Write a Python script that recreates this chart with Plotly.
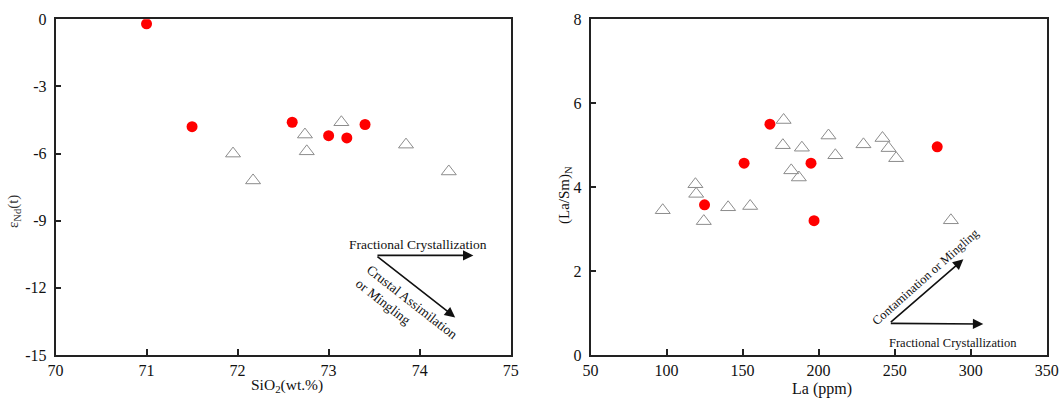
import plotly.graph_objects as go

# ---------------- data ----------------
# Left panel: SiO2 vs eNd(t)
sio2_red = [71.0, 71.5, 72.6, 73.0, 73.2, 73.4]
end_red = [-0.2, -4.8, -4.6, -5.2, -5.3, -4.7]
sio2_tri = [71.95, 72.17, 72.74, 72.76, 73.14, 73.85, 74.32]
end_tri = [-6.0, -7.2, -5.15, -5.9, -4.6, -5.6, -6.8]

# Right panel: La vs (La/Sm)N
la_red = [168, 151, 195, 278, 125, 197]
lasm_red = [5.5, 4.57, 4.57, 4.96, 3.58, 3.2]
la_tri = [177, 176.5, 189, 206.5, 211, 229.5, 242, 246, 251, 182, 187, 119, 119.5,
          97.5, 140.5, 155, 124.5, 287]
lasm_tri = [5.6, 5.0, 4.94, 5.23, 4.76, 5.02, 5.17, 4.93, 4.69, 4.4, 4.23, 4.07, 3.84,
            3.45, 3.52, 3.55, 3.19, 3.21]

left_xticks = [70, 71, 72, 73, 74, 75]
left_yticks = [0, -3, -6, -9, -12, -15]
left_yticklabels = ["0", "-3", "-6", "-9", "-12", "-15"]
right_xticks = [50, 100, 150, 200, 250, 300, 350]
right_yticks = [0, 2, 4, 6, 8]

# trend arrows (tail -> head) in data units
left_arrow_tail = (73.52, -10.55)
left_arrow_fc = (74.59, -10.55)
left_arrow_ca = (74.39, -13.32)
right_arrow_tail = (246.5, 0.755)
right_arrow_fc = (308.3, 0.74)
right_arrow_cm = (295.2, 2.28)

W, H = 1063, 399
FONT = "Liberation Serif"
AX = "#222222"
RED = "#ff0000"
TRI = "#8c8c8c"

def px(xp):
    return xp / W

def py(yp):
    return 1 - yp / H

fig = go.Figure()

fig.add_trace(go.Scatter(x=sio2_tri, y=end_tri, mode="markers", xaxis="x", yaxis="y",
                         marker=dict(symbol="triangle-up-open", size=13, color=TRI,
                                     line=dict(width=1, color=TRI)), showlegend=False))
fig.add_trace(go.Scatter(x=sio2_red, y=end_red, mode="markers", xaxis="x", yaxis="y",
                         marker=dict(symbol="circle", size=11, color=RED, line=dict(width=0)),
                         showlegend=False))
fig.add_trace(go.Scatter(x=la_tri, y=lasm_tri, mode="markers", xaxis="x2", yaxis="y2",
                         marker=dict(symbol="triangle-up-open", size=13, color=TRI,
                                     line=dict(width=1, color=TRI)), showlegend=False))
fig.add_trace(go.Scatter(x=la_red, y=lasm_red, mode="markers", xaxis="x2", yaxis="y2",
                         marker=dict(symbol="circle", size=11, color=RED, line=dict(width=0)),
                         showlegend=False))

axis_common = dict(showline=True, linecolor=AX, linewidth=1.5, mirror=True,
                   ticks="inside", ticklen=6, tickwidth=1.5, tickcolor=AX,
                   showgrid=False, zeroline=False, automargin=False,
                   tickfont=dict(family=FONT, size=16, color="#111"))

fig.update_layout(
    width=W, height=H, margin=dict(l=0, r=0, t=0, b=0, autoexpand=False),
    paper_bgcolor="white", plot_bgcolor="white",
    xaxis=dict(domain=[px(55.5), px(510.7)], range=[70, 75], tickvals=left_xticks,
               anchor="y", ticklabelstandoff=0, **axis_common),
    yaxis=dict(domain=[py(355), py(19.3)], range=[-15, 0], tickvals=left_yticks,
               ticktext=left_yticklabels, anchor="x", ticklabelstandoff=4, **axis_common),
    xaxis2=dict(domain=[px(590.5), px(1046.7)], range=[50, 350], tickvals=right_xticks,
                anchor="y2", ticklabelstandoff=0, **axis_common),
    yaxis2=dict(domain=[py(355), py(19.3)], range=[0, 8], tickvals=right_yticks,
                anchor="x2", ticklabelstandoff=4, **axis_common),
)

ann = []
def label(text, xp, yp, size, angle=0, color="#111"):
    return dict(text=text, x=px(xp), y=py(yp), xref="paper", yref="paper",
                xanchor="center", yanchor="middle", showarrow=False, textangle=angle,
                font=dict(family=FONT, size=size, color=color))

# axis titles
ann.append(label("SiO<sub>2</sub>(wt.%)", 286.7, 385, 15.5))
ann.append(label("La (ppm)", 821.7, 389, 16))
ann.append(label("ε<sub>Nd</sub>(t)", 14, 212, 15, -90, "#333"))
ann.append(label("(La/Sm)<sub>N</sub>", 565, 195, 15, -90))

# arrows
def arrow(tail, head, xr, yr):
    return dict(x=head[0], y=head[1], ax=tail[0], ay=tail[1], xref=xr, yref=yr,
                axref=xr, ayref=yr, text="", showarrow=True, arrowhead=2, arrowsize=1.3,
                arrowwidth=1.6, arrowcolor="#111")

ann.append(arrow(left_arrow_tail, left_arrow_fc, "x", "y"))
ann.append(arrow(left_arrow_tail, left_arrow_ca, "x", "y"))
ann.append(arrow(right_arrow_tail, right_arrow_fc, "x2", "y2"))
ann.append(arrow(right_arrow_tail, right_arrow_cm, "x2", "y2"))

# arrow labels
def note(text, x, y, xr, yr, size, angle=0, align="center"):
    return dict(text=text, x=x, y=y, xref=xr, yref=yr, xanchor="center", yanchor="middle",
                showarrow=False, textangle=angle, align=align,
                font=dict(family=FONT, size=size, color="#111"))

ann.append(note("Fractional Crystallization", 73.98, -10.04, "x", "y", 13.5))
ann.append(note("Crustal Assimilation<br>or Mingling", 73.86, -12.97, "x", "y", 13.5, 38, "left"))
ann.append(note("Fractional Crystallization", 288.6, 0.29, "x2", "y2", 12.5))
ann.append(note("Contamination or Mingling", 270.4, 1.85, "x2", "y2", 12.5, -41.6))

fig.update_layout(annotations=ann)
fig.write_html("out.html",
               post_script="document.body.style.margin='0';document.body.style.padding='0';"
                           "document.documentElement.style.overflow='hidden';")
